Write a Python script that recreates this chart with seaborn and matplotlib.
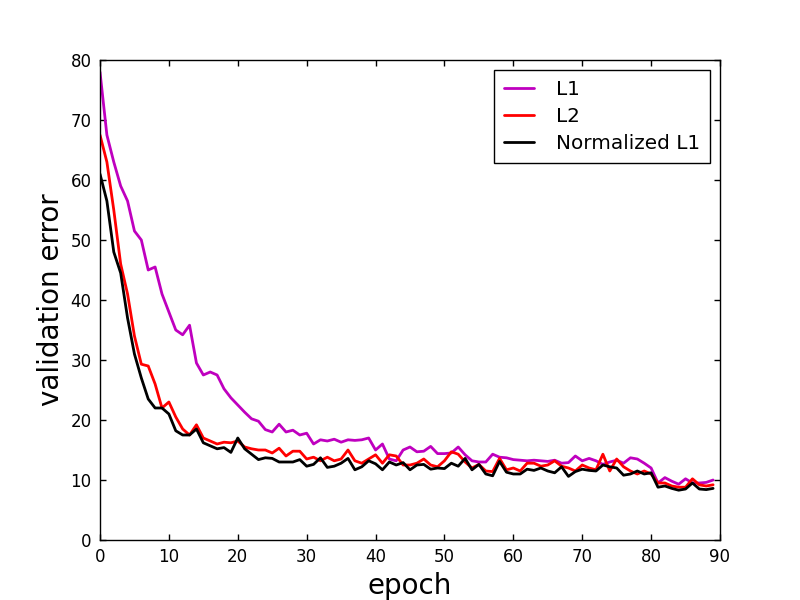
import pandas as pd
import matplotlib
matplotlib.use("Agg")
import matplotlib.pyplot as plt
import seaborn as sns

# ============================================================
# DATA
# ============================================================

l1 = [78, 67.5, 63, 59, 56.5, 51.5, 50, 45, 45.5, 41,
      38, 35, 34.2, 35.8, 29.5, 27.5, 28, 27.5, 25.2, 23.7,
      22.5, 21.3, 20.2, 19.8, 18.4, 18, 19.3, 18, 18.3, 17.5,
      17.8, 16, 16.7, 16.5, 16.8, 16.3, 16.7, 16.6, 16.7, 17,
      15, 16, 13.5, 13.2, 15, 15.5, 14.7, 14.8, 15.6, 14.4,
      14.4, 14.5, 15.5, 14.2, 13.2, 13, 13, 14.3, 13.8, 13.7,
      13.4, 13.3, 13.2, 13.3, 13.2, 13.1, 13.3, 12.8, 12.9, 14,
      13.2, 13.6, 13.2, 12.6, 13, 13.3, 12.8, 13.7, 13.5, 12.8,
      12, 9.5, 10.4, 9.8, 9.3, 10.2, 9.5, 9.5, 9.6, 10]

l2 = [67.5, 63, 55, 46, 41, 34, 29.3, 29, 26, 22,
      23, 20.5, 18.5, 17.5, 19.2, 17, 16.5, 16, 16.3, 16.2,
      16.5, 15.5, 15.2, 15, 15, 14.5, 15.3, 14, 14.8, 14.8,
      13.5, 13.8, 13.2, 13.8, 13.2, 13.5, 15, 13.2, 12.8, 13.5,
      14.2, 12.8, 14.2, 14, 12.5, 12.5, 12.8, 13.5, 12.5, 12.2,
      13.2, 14.7, 14.3, 13, 12, 12.6, 11.5, 11.4, 13.6, 11.7,
      12, 11.5, 12.8, 12.8, 12.3, 12.5, 13.2, 12.3, 12, 11.5,
      12.5, 12, 11.7, 14.3, 11.5, 13.5, 12.2, 11.5, 11, 11.5,
      11, 9.5, 9.5, 9, 8.8, 8.8, 10.2, 9.2, 9, 9.2]

norm_l1 = [61, 56.5, 48, 44.5, 37, 31, 27, 23.5, 22, 22,
           21, 18.2, 17.5, 17.5, 18.5, 16.2, 15.7, 15.2, 15.4, 14.6,
           17, 15.2, 14.3, 13.4, 13.7, 13.6, 13, 13, 13, 13.4,
           12.3, 12.6, 13.7, 12.1, 12.3, 12.8, 13.6, 11.7, 12.2, 13.2,
           12.7, 11.7, 13, 12.5, 12.9, 11.7, 12.5, 12.6, 11.8, 12,
           11.9, 12.8, 12.3, 13.6, 11.7, 12.6, 11, 10.7, 13.1, 11.3,
           11, 11, 11.8, 11.6, 12, 11.5, 11.2, 12.2, 10.6, 11.4,
           11.8, 11.6, 11.5, 12.5, 12.2, 12, 10.8, 11, 11.5, 11,
           11.2, 8.8, 9, 8.6, 8.3, 8.5, 9.5, 8.5, 8.4, 8.6]

epochs = list(range(len(l1)))
series_names = ["L1", "L2", "Normalized L1"]
series_colors = ["#bf00bf", "#ff0000", "#000000"]

# ============================================================
# LONG FORMAT TABLE
# ============================================================

df = pd.DataFrame({
    "epoch": epochs * 3,
    "error": l1 + l2 + norm_l1,
    "method": [series_names[0]] * len(l1) + [series_names[1]] * len(l2)
              + [series_names[2]] * len(norm_l1),
})

# ============================================================
# PLOT
# ============================================================

sns.set_style("white")
plt.rcParams["font.family"] = ["DejaVu Sans"]
plt.rcParams["text.color"] = "black"
plt.rcParams["axes.labelcolor"] = "black"
plt.rcParams["xtick.color"] = "black"
plt.rcParams["ytick.color"] = "black"

fig = plt.figure(figsize=(8, 6), dpi=100)
ax = fig.add_axes([0.125, 0.1, 0.775, 0.8])

sns.lineplot(data=df, x="epoch", y="error", hue="method",
             palette=dict(zip(series_names, series_colors)),
             linewidth=2, ax=ax)

ax.set_xlim(0, 90)
ax.set_ylim(0, 80)
ax.set_xticks(range(0, 91, 10))
ax.set_yticks(range(0, 81, 10))
ax.tick_params(direction="in", length=4, width=1, labelsize=12,
               top=True, right=True, bottom=True, left=True, pad=6,
               colors="black")
for s in ax.spines.values():
    s.set_color("black")
    s.set_linewidth(1)

ax.set_xlabel("epoch", fontsize=20, color="black")
ax.set_ylabel("validation error", fontsize=20, color="black")

leg = ax.legend(loc="upper right", fontsize=14.4, fancybox=False,
                framealpha=1, edgecolor="black", handlelength=1.5,
                handletextpad=1.1, borderpad=0.5, labelspacing=0.4)
leg.get_frame().set_linewidth(1)
for line in leg.get_lines():
    line.set_linewidth(2)
for t in leg.get_texts():
    t.set_color("black")

fig.savefig("out.png", dpi=100)
